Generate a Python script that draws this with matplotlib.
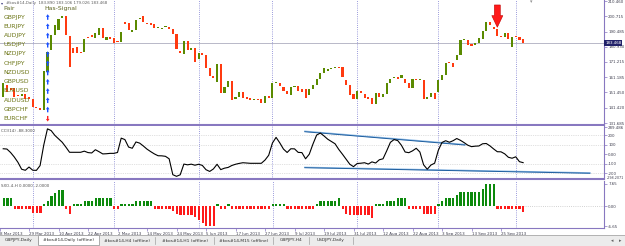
import matplotlib
matplotlib.use("Agg")
import matplotlib.pyplot as plt
import matplotlib.transforms as mtransforms
from matplotlib.patches import Rectangle, FancyArrow

# ---------------- data ----------------
opens = [148.5, 156.2, 154.3, 154.3, 149.8, 149.1, 150.4, 148.5, 147.2, 142.0,
         141.4, 140.1, 164.6, 178.8, 188.5, 191.7, 199.5, 200.8, 187.9, 180.1,
         180.8, 177.5, 177.5, 187.2, 188.5, 186.6, 188.5, 193.0, 185.3, 187.2,
         186.6, 184.6, 184.0, 196.9, 196.3, 190.4, 191.7, 198.8, 200.8, 196.3,
         196.3, 195.6, 193.0, 192.4, 193.7, 193.7, 192.4, 189.2, 178.2, 176.2,
         184.6, 178.8, 180.1, 173.0, 176.9, 175.6, 167.2, 162.0, 158.2, 169.8,
         151.1, 154.9, 158.8, 147.2, 148.5, 151.7, 148.5, 147.8, 146.5, 147.2,
         147.2, 144.6, 149.1, 147.8, 157.5, 157.5, 154.9, 152.4, 149.8, 154.9,
         155.6, 153.6, 153.6, 149.8, 153.6, 156.2, 160.1, 164.0, 165.3, 166.6,
         167.2, 167.9, 167.9, 159.5, 156.2, 150.4, 147.2, 152.4, 150.4, 148.5,
         147.8, 144.0, 151.1, 148.5, 150.4, 157.5, 160.7, 161.4, 160.7, 160.1,
         157.5, 154.3, 160.1, 159.5, 159.5, 147.2, 148.5, 151.1, 151.7, 159.5,
         162.7, 171.1, 170.4, 172.4, 175.6, 185.3, 185.3, 182.7, 182.1, 183.3,
         185.9, 191.1, 196.9, 193.7, 192.4, 187.9, 187.2, 189.8, 180.8, 187.9,
         187.2, 185.9]
closes = [157.5, 151.7, 153.0, 148.5, 149.1, 150.4, 147.2, 147.2, 142.0, 141.4,
          140.1, 165.3, 177.5, 188.5, 195.0, 198.8, 200.8, 188.5, 167.8, 176.9,
          176.9, 176.9, 185.9, 186.6, 187.2, 189.8, 193.0, 186.6, 187.2, 185.9,
          183.3, 184.0, 190.4, 195.6, 191.7, 191.7, 198.2, 199.5, 196.9, 195.6,
          195.0, 193.0, 193.7, 193.0, 194.3, 192.4, 189.2, 179.5, 176.9, 184.6,
          178.8, 180.1, 171.1, 176.9, 175.6, 167.2, 162.0, 160.7, 169.8, 151.1,
          154.9, 158.8, 146.5, 148.5, 151.7, 147.8, 147.2, 146.5, 147.2, 146.5,
          144.6, 149.1, 147.8, 157.5, 158.2, 155.6, 152.4, 150.4, 154.9, 155.6,
          152.4, 151.7, 147.8, 153.6, 156.2, 160.1, 164.0, 167.2, 166.6, 167.2,
          167.9, 167.2, 161.4, 156.2, 149.8, 147.2, 152.4, 151.1, 147.8, 147.2,
          144.0, 151.1, 148.5, 150.4, 157.5, 160.1, 161.4, 160.1, 162.7, 157.5,
          154.3, 160.1, 159.5, 160.1, 147.2, 148.5, 151.1, 147.2, 159.5, 162.7,
          170.4, 170.4, 167.9, 175.6, 185.3, 185.9, 182.1, 181.4, 183.3, 186.6,
          191.1, 196.9, 195.0, 192.4, 187.9, 187.2, 189.8, 185.9, 187.2, 187.2,
          185.3, 183.468]
cci = [57, 54, 18, -29, -85, -157, -168, -134, -167, -169,
       -119, 96, 265, 247, 197, 161, 125, 74, 20, 20,
       20, 20, 32, 17, 13, 47, 26, 3, 5, 9,
       9, 18, 168, 153, 75, 62, 128, 116, 86, 53,
       27, 3, -16, -17, -22, -48, -214, -231, -215, -103,
       -111, -104, -115, -105, -117, -162, -180, -154, -105, -161,
       -146, -138, -118, -105, -96, -89, -92, -95, -95, -95,
       -95, -61, -11, 116, 176, 119, 54, 18, 57, 56,
       19, 17, -48, 0, 106, 200, 221, 191, 157, 133,
       109, 50, 0, -52, -105, -130, -97, -94, -89, -103,
       -80, -92, -58, -48, 35, 124, 153, 142, 93, 23,
       16, 35, 62, 23, -110, -157, -113, -94, 41, 123,
       141, 125, 141, 164, 145, 121, 94, 79, 84, 86,
       109, 112, 87, 55, 26, 25, 4, -32, -42, -27,
       -78, -88.3]
sxo = [3, 3, 3, -1, -1, -1, -1, -1, -2.3, -2.3,
       -2.3, 0.8, 2, 3.4, 4.6, 5.4, 5.4, -1, -2.6, 1,
       1, 1, 2, 2, 2, 3, 3, 3, 3, 3,
       -1, -1, 1, 1, 1, 1, 2, 2, 2, 2,
       2, -1, -1, -1, -1, -1, -1.5, -2.5, -3, -3,
       -3, -3, -3.5, -4.5, -5.5, -6.65, -6.65, -6.65, 1, -1,
       -1, 1, -1, -1, -1, -1, -1, -1, -1, -1,
       -1, -1, -1, 1, 1, 1, 1, -1, -1, -1,
       -1, -1, -1, -1, -1, 1, 2, 2, 2, 2,
       2, 3, -1, -2.5, -3, -3, -3, -3, -3, -3,
       -4, 1, 1, 1, 2, 2, 2, 3, 3, 3,
       -1, -1, -1, -1, -2.5, -2.5, -2.5, -2.5, 1, 2,
       3, 3, 3, 4, 5, 5, 5, 5, 5, 5,
       6, 7.65, 7.65, 7.65, -1, -1, -1, -1, -1, -1,
       -1, -2]

date_labels = ["8 Mar 2013", "29 Mar 2013", "10 Apr 2013", "22 Apr 2013", "2 May 2013",
               "14 May 2013", "24 May 2013", "5 Jun 2013", "17 Jun 2013", "27 Jun 2013",
               "9 Jul 2013", "19 Jul 2013", "31 Jul 2013", "12 Aug 2013", "22 Aug 2013",
               "3 Sep 2013", "13 Sep 2013", "25 Sep 2013"]
date_bars = [-1, 7, 15, 23, 31, 39, 47, 55, 63, 71, 79, 87, 95, 103, 111, 119, 127, 135]
month_start_bars = [8, 30, 53, 73, 96, 118, 139]

price_ticks = [210.460, 200.715, 190.485, 180.930, 171.215, 161.185, 151.450, 141.420, 131.685]
last_price = 183.468
cci_ticks = [284, 200, 100, 0, -100, -200]
cci_tick_labels = ["289.486", "200", "100", "0.00", "-100", "-200"]
cci_levels = [200, 100, -100, -200]
sxo_ticks = [7.65, 0.0, -6.65]

trend_upper_x, trend_upper_y = [81.8, 125.2], [235, 96]
trend_lower_x, trend_lower_y = [81.8, 159.1], [-141, -199]

signal_bar, signal_from, signal_to = 134, 207.9, 193.5

pairs = ["GBPJPY", "EURJPY", "AUDJPY", "USDJPY", "NZDJPY", "CHFJPY",
         "NZDUSD", "GBPUSD", "EURUSD", "AUDUSD", "GBPCHF", "EURCHF"]
signals = [1, 1, 1, 1, 1, 1, 1, 1, 1, 1, 1, -1]

tabs = ["GBPJPY,Daily", "#kos#14,Daily (offline)", "#kos#14,H4 (offline)",
        "#kos#14,H1 (offline)", "#kos#14,M15 (offline)", "GBPJPY,H4", "USDJPY,Daily"]
active_tab = 1

# ---------------- styling ----------------
plt.rcParams['font.family'] = ['DejaVu Sans']
BULL, BEAR = "#5a8a00", "#ff3a10"
HG, HR = "#0c8a0c", "#ff1a1a"
FRAME = "#8878c0"
SEP = "#7a7ad0"
LBL = "#404050"
FS = 2.9

W, H = 625, 246
fig = plt.figure(figsize=(W / 100, H / 100), dpi=100)
fig.patch.set_facecolor("white")


def add_px_axes(x0, y0, x1, y1):
    return fig.add_axes([x0 / W, 1 - y1 / H, (x1 - x0) / W, (y1 - y0) / H])


n = len(opens)
idx = list(range(n))
XL = (-0.868, 162.93)

ax_main = add_px_axes(0, 0, 604, 124.5)
ax_cci = add_px_axes(0, 125.5, 604, 179)
ax_sxo = add_px_axes(0, 180.5, 604, 228)

for ax in (ax_main, ax_cci, ax_sxo):
    ax.set_xlim(*XL)
    ax.set_facecolor("white")
    for s in ("top", "left"):
        ax.spines[s].set_visible(False)
    ax.spines["right"].set_color(FRAME)
    ax.spines["right"].set_linewidth(0.8)
    ax.spines["bottom"].set_color(FRAME)
    ax.spines["bottom"].set_linewidth(1.5)
    ax.yaxis.tick_right()
    ax.tick_params(axis="y", length=2, width=0.5, pad=1, labelsize=FS,
                   labelcolor=LBL, color=FRAME)
    ax.tick_params(axis="x", length=0, labelbottom=False)
    for m in month_start_bars:
        ax.axvline(m, color=SEP, lw=0.6, ls=(0, (1, 1.6)), zorder=1)
ax_sxo.spines["bottom"].set_linewidth(0.8)

# ---- main price panel ----
ax_main.set_ylim(130.72, 211.11)
ax_main.axhline(last_price, color="#b8b8c8", lw=0.7, zorder=0)
bottoms = [min(o, c) for o, c in zip(opens, closes)]
heights = [max(abs(c - o), 0.7) for o, c in zip(opens, closes)]
colors = [BULL if c >= o else BEAR for o, c in zip(opens, closes)]
ax_main.bar(idx, heights, bottom=bottoms, width=0.58, color=colors, lw=0, zorder=3)
ax_main.set_yticks(price_ticks)
ax_main.set_yticklabels([f"{p:.3f}" for p in price_ticks])
ax_main.arrow(signal_bar, signal_from, 0, signal_to - signal_from, width=1.6,
              head_width=3.0, head_length=7.5, length_includes_head=True,
              fc="#ff1a1a", ec="#c00000", lw=0.4, zorder=5)
tr = mtransforms.blended_transform_factory(ax_main.transAxes, ax_main.transData)
ax_main.text(1.002, last_price, f"{last_price:.3f}", transform=tr, fontsize=FS,
             color="white", va="center", ha="left", clip_on=False, zorder=6,
             bbox=dict(boxstyle="square,pad=0.18", fc="#22226a", ec="none"))

# ---- CCI panel ----
ax_cci.set_ylim(-259, 300)
for lv in cci_levels:
    ax_cci.axhline(lv, color="#c4c4c4", lw=0.5, ls=(0, (1, 1.6)), zorder=1)
ax_cci.plot(idx, cci, color="black", lw=0.8, zorder=4)
ax_cci.plot(trend_upper_x, [v + 5 for v in trend_upper_y], color="#8fbbe6", lw=1.0, zorder=2)
ax_cci.plot(trend_upper_x, trend_upper_y, color="#1f5f9f", lw=0.7, zorder=3)
ax_cci.plot(trend_lower_x, [v + 4 for v in trend_lower_y], color="#8fbbe6", lw=1.0, zorder=2)
ax_cci.plot(trend_lower_x, trend_lower_y, color="#1f5f9f", lw=0.7, zorder=3)
ax_cci.set_yticks(cci_ticks)
ax_cci.set_yticklabels(cci_tick_labels)
ax_cci.text(1.004, -0.01, "-298.2071", transform=ax_cci.transAxes, fontsize=2.4,
            color=LBL, ha="left", va="bottom", clip_on=False)
ax_cci.text(0.002, 0.93, f"CCI(14) {cci[-1]:.4f}", transform=ax_cci.transAxes,
            fontsize=FS, color="#505050", ha="left", va="top")

# ---- SXO panel ----
ax_sxo.set_ylim(-7.17, 8.67)
ax_sxo.bar(idx, sxo, width=0.62, color=[HG if v > 0 else HR for v in sxo], lw=0, zorder=3)
ax_sxo.plot([n - 1, XL[1]], [0, 0], color="#c4c4c4", lw=0.6, ls=(0, (1, 1.6)), zorder=1)
ax_sxo.set_yticks(sxo_ticks)
ax_sxo.set_yticklabels([f"{v:.2f}" for v in sxo_ticks])
ax_sxo.text(0.002, 0.93, "SXO-4-H 0.0000 -2.0000", transform=ax_sxo.transAxes,
            fontsize=FS, color="#505050", ha="left", va="top")
ax_sxo.set_xticks(date_bars)
ax_sxo.set_xticklabels(date_labels, ha="left")
ax_sxo.tick_params(axis="x", length=2, width=0.5, pad=0.6, labelsize=FS,
                   labelcolor=LBL, color=FRAME, labelbottom=True)

# ---------------- overlay (table, header, tabs) ----------------
ov = fig.add_axes([0, 0, 1, 1], zorder=10)
ov.set_xlim(0, W)
ov.set_ylim(H, 0)
ov.axis("off")
ov.patch.set_alpha(0)

ov.text(1, 2.8, "▾", fontsize=3, color="#404080", va="center", ha="left")
ov.text(6, 2.8, "#kos#14,Daily  183.890 183.106 179.026 183.468", fontsize=FS,
        color="#606060", va="center", ha="left")
ov.text(531, 1.5, "▾", fontsize=3.5, color="#909090", va="center", ha="center")

ov.text(3.5, 8.5, "Pair", fontsize=4.4, color="#5c6420", va="center", ha="left")
ov.text(44, 8.5, "Has-Signal", fontsize=4.4, color="#5c6420", va="center", ha="left")
for k, (p, s) in enumerate(zip(pairs, signals)):
    y = 17 + 9.25 * k
    ov.text(3.5, y, p, fontsize=4.4, color="#6b7414", va="center", ha="left")
    if s > 0:
        ov.add_patch(FancyArrow(47.7, y + 2.8, 0, -5.6, width=1.4, head_width=3.6,
                                head_length=2.6, length_includes_head=True,
                                fc="#1a50ff", ec="none"))
    else:
        ov.add_patch(FancyArrow(47.7, y - 2.8, 0, 5.6, width=1.4, head_width=3.6,
                                head_length=2.6, length_includes_head=True,
                                fc="#ff2020", ec="none"))

# tab bar
ov.add_patch(Rectangle((0, 235), W, 11, fc="#ececec", ec="none"))
ov.plot([0, W], [235.3, 235.3], color="#a8a8a8", lw=0.6)
edges = [0, 38, 99, 155, 214, 273, 309, 353]
for k, name in enumerate(tabs):
    x0, x1 = edges[k], edges[k + 1]
    if k == active_tab:
        ov.add_patch(Rectangle((x0, 235), x1 - x0, 10, fc="white", ec="#909090", lw=0.5))
    else:
        ov.plot([x1 - 0.5, x1 - 0.5], [237, 244], color="#a0a0a0", lw=0.5)
    ov.text((x0 + x1) / 2, 240.5, name, fontsize=3.2, color="#303030",
            va="center", ha="center")
ov.text(612, 240.5, "◂", fontsize=3.5, color="#606060", va="center", ha="center")
ov.text(620, 240.5, "▸", fontsize=3.5, color="#606060", va="center", ha="center")

fig.savefig("out.png", dpi=100)
